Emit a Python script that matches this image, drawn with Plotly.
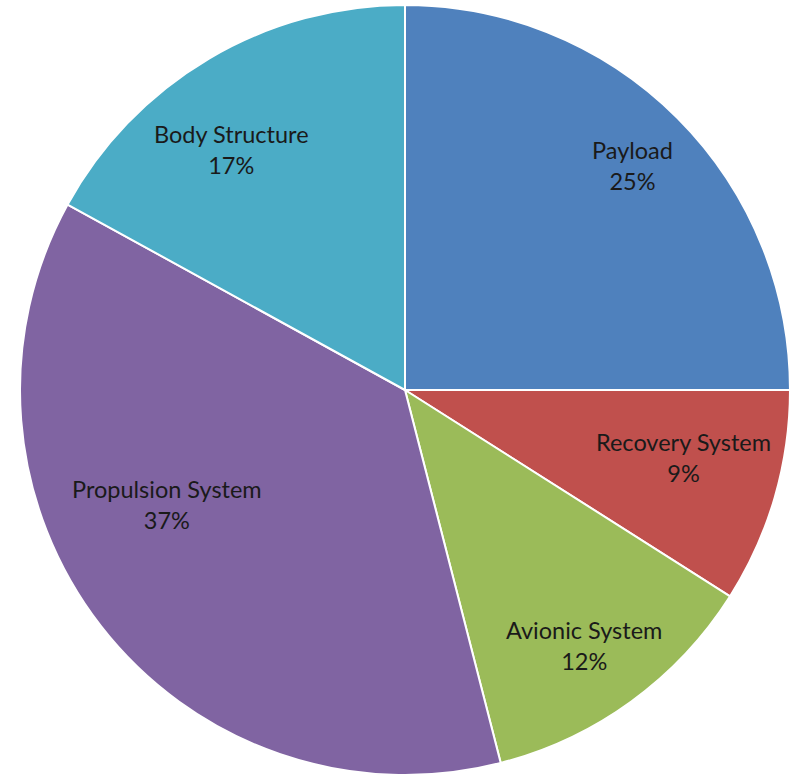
import math
import plotly.graph_objects as go

# Mass breakdown by subsystem (percent of total)
subsystems = ["Payload", "Recovery System", "Avionic System", "Propulsion System", "Body Structure"]
shares = [25, 9, 12, 37, 17]
colors = ["#4F81BD", "#C0504D", "#9BBB59", "#8064A2", "#4BACC6"]

# Label placement inside each slice: radial fraction of the radius and angular nudge (deg)
label_radius = [0.83, 0.745, 0.81, 0.686, 0.77]
label_nudge = [0.4, -2.5, 0.9, 12.0, -5.2]

W, H = 798, 780
CX, CY, R = 405, 390, 385  # pie centre and radius in pixels

fig = go.Figure(
    go.Pie(
        labels=subsystems,
        values=shares,
        sort=False,
        direction="clockwise",
        rotation=0,
        marker=dict(colors=colors, line=dict(color="white", width=2)),
        textinfo="none",
        domain=dict(x=[(CX - R) / W, (CX + R) / W], y=[(CY - R) / H, (CY + R) / H]),
        showlegend=False,
        hoverinfo="label+percent",
    )
)

total = sum(shares)
cum = 0.0
for name, v, rf, nudge in zip(subsystems, shares, label_radius, label_nudge):
    mid = (cum + v / 2) / total * 360 + nudge
    cum += v
    th = math.radians(mid)
    x = (CX + rf * R * math.sin(th)) / W
    y = (H - CY + rf * R * math.cos(th)) / H
    fig.add_annotation(
        x=x, y=y, xref="paper", yref="paper",
        text=f"{name}<br>{round(v / total * 100)}%",
        showarrow=False,
        font=dict(family="Lato", size=23.5, color="#1a1a1a"),
        align="center",
        xanchor="center", yanchor="middle",
    )

fig.update_layout(
    width=W,
    height=H,
    margin=dict(l=0, r=0, t=0, b=0),
    paper_bgcolor="white",
    plot_bgcolor="white",
)

fig.write_html("out.html")
